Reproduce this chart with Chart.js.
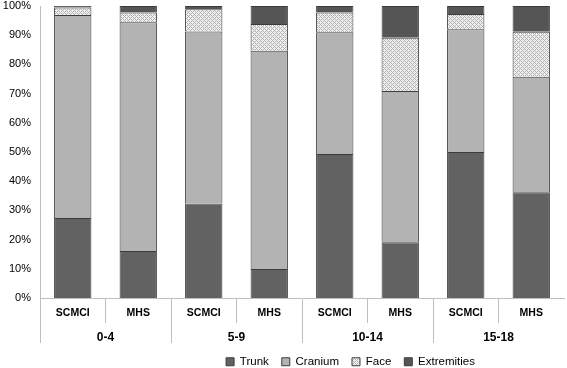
<!DOCTYPE html>
<html>
<head>
<meta charset="utf-8">
<script src="https://cdn.jsdelivr.net/npm/chart.js@4.4.1/dist/chart.umd.min.js"></script>
<style>
  html, body { margin: 0; padding: 0; background: #fff; }
  #wrap { width: 567px; height: 368px; }
</style>
</head>
<body>
<div id="wrap"><canvas id="chart"></canvas></div>
<script>
// --- Data (percent of injuries per body region) ---
const sources   = ['SCMCI', 'MHS', 'SCMCI', 'MHS', 'SCMCI', 'MHS', 'SCMCI', 'MHS'];
const ageGroups = ['0-4', '5-9', '10-14', '15-18'];

const trunk       = [27.4, 16.1, 32.4,  9.9, 49.3, 19.1, 50.0, 36.2];
const cranium     = [69.5, 78.3, 58.9, 74.8, 41.7, 51.8, 42.0, 39.6];
const face        = [ 2.6,  3.4,  7.6,  9.1,  6.8, 18.2,  5.3, 15.4];
const extremities = [ 0.5,  2.2,  1.1,  6.2,  2.2, 10.9,  2.7,  8.8];

const yTicks = [0, 10, 20, 30, 40, 50, 60, 70, 80, 90, 100];

// --- Helpers ---
function meshPattern() {
  const c = document.createElement('canvas');
  c.width = 4; c.height = 4;
  const g = c.getContext('2d');
  g.fillStyle = '#f0f0f0';
  g.fillRect(0, 0, 4, 4);
  g.fillStyle = '#b0b0b0';
  for (let x = 0; x < 4; x++) {
    for (let y = 0; y < 4; y++) {
      if ((x + y) % 4 === 0 || (x - y + 4) % 4 === 0) g.fillRect(x, y, 1, 1);
    }
  }
  return g.createPattern(c, 'repeat');
}

const AXIS = '#bfbfbf';
const EDGE = '#3c3c3c';

// hide the divider on the far right edge (the extra offset grid line)
const dividerColor = count => ctx =>
  (ctx.type === 'tick' && ctx.index < count ? AXIS : 'rgba(255,255,255,0)');

function series(label, data, fill) {
  return {
    label,
    data,
    backgroundColor: fill,
    borderColor: EDGE,
    borderWidth: 1,
    barPercentage: 0.57,
    categoryPercentage: 1,
  };
}

// legend: fixed height, nudged right like the original
const legendTweak = {
  id: 'legendTweak',
  beforeLayout(chart) {
    const lg = chart.legend;
    if (lg && !lg._fixed) {
      const fit = lg.fit.bind(lg);
      lg.fit = function () { fit(); this.height = 24; };
      lg._fixed = true;
    }
  },
  afterLayout(chart) {
    chart.legend.left += 137;
    chart.legend.top -= 1;
  },
};

new Chart(document.getElementById('chart'), {
  type: 'bar',
  data: {
    labels: sources,
    datasets: [
      series('Trunk', trunk, '#626262'),
      series('Cranium', cranium, '#b3b3b3'),
      series('Face', face, meshPattern()),
      series('Extremities', extremities, '#555555'),
    ],
  },
  plugins: [legendTweak],
  options: {
    responsive: true,
    maintainAspectRatio: false,
    animation: false,
    layout: { padding: { top: 0, right: 3, left: 0, bottom: 0 } },
    plugins: {
      tooltip: { enabled: false },
      legend: {
        position: 'bottom',
        labels: {
          boxWidth: 8,
          boxHeight: 8,
          padding: 13,
          color: '#000',
          font: { family: 'Liberation Sans', size: 11.5 },
        },
      },
    },
    scales: {
      x: {
        stacked: true,
        offset: true,
        grid: {
          offset: true,
          drawOnChartArea: false,
          tickLength: 25,
          color: dividerColor(sources.length),
          tickColor: dividerColor(sources.length),
        },
        border: { color: AXIS },
        ticks: {
          padding: -16,
          maxRotation: 0,
          autoSkip: false,
          color: '#000',
          font: { family: 'Liberation Sans', size: 10.5, weight: 'bold' },
        },
        afterFit: s => { s.height = 25; },
      },
      x2: {
        type: 'category',
        labels: ageGroups,
        position: 'bottom',
        offset: true,
        grid: {
          offset: true,
          drawOnChartArea: false,
          tickLength: 20,
          color: dividerColor(ageGroups.length),
          tickColor: dividerColor(ageGroups.length),
        },
        border: { display: false },
        ticks: {
          padding: -13,
          maxRotation: 0,
          color: '#000',
          font: { family: 'Liberation Sans', size: 12, weight: 'bold' },
        },
        afterFit: s => { s.height = 21; },
      },
      y: {
        stacked: true,
        min: 0,
        max: 100,
        afterBuildTicks: s => { s.ticks = yTicks.map(v => ({ value: v })); },
        ticks: {
          padding: 1,
          color: '#000',
          font: { family: 'Liberation Sans', size: 11 },
          callback: v => v + '%',
        },
        grid: { display: false },
        border: { color: AXIS },
        afterFit: s => { s.width = 40; s.paddingTop = 6; },
      },
    },
  },
});
</script>
</body>
</html>
